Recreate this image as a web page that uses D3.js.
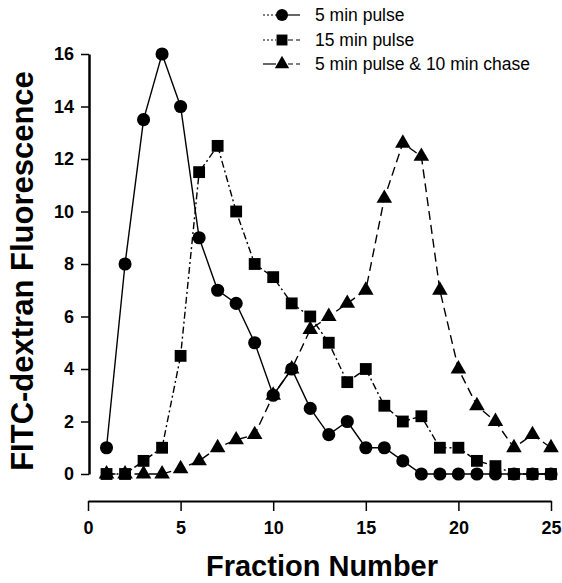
<!DOCTYPE html>
<html>
<head>
<meta charset="utf-8">
<script src="https://cdn.jsdelivr.net/npm/d3@7"></script>
<style>
  body { margin: 0; background: #fff; }
  text { font-family: "Liberation Sans", Arial, sans-serif; }
</style>
</head>
<body>
<script>
// Data
var fractions = [1, 2, 3, 4, 5, 6, 7, 8, 9, 10, 11, 12, 13, 14, 15, 16, 17, 18, 19, 20, 21, 22, 23, 24, 25];
var pulse5 = [1, 8, 13.5, 16, 14, 9, 7, 6.5, 5, 3, 4, 2.5, 1.5, 2, 1, 1, 0.5, 0, 0, 0, 0, 0, 0, 0, 0];
var pulse15 = [0, 0, 0.5, 1, 4.5, 11.5, 12.5, 10, 8, 7.5, 6.5, 6, 5, 3.5, 4, 2.6, 2, 2.2, 1, 1, 0.5, 0.3, 0, 0, 0];
var chase = [0, 0, 0, 0, 0.2, 0.5, 1, 1.3, 1.5, 3, 4, 5.5, 6, 6.5, 7, 10.5, 12.6, 12.1, 7, 4, 2.6, 2, 1, 1.5, 1];
var xTicks = [0, 5, 10, 15, 20, 25];
var yTicks = [0, 2, 4, 6, 8, 10, 12, 14, 16];
var legendLabels = ["5 min pulse", "15 min pulse", "5 min pulse & 10 min chase"];

var width = 562;
var height = 583;

var svg = d3.select("body").append("svg")
    .attr("width", width)
    .attr("height", height);

// scales
var x = d3.scaleLinear().domain([0, 25]).range([88, 551]);
var y = d3.scaleLinear().domain([0, 16]).range([474, 54]);

// y axis
var yAxis = svg.append("g")
    .attr("transform", "translate(89,0)")
    .call(d3.axisLeft(y).tickValues(yTicks).tickSize(8).tickPadding(7).tickSizeOuter(0));
yAxis.select(".domain").attr("stroke-width", 2.5);
yAxis.selectAll(".tick line").attr("stroke-width", 1.5);
yAxis.selectAll("text")
    .attr("font-size", 18)
    .attr("font-weight", "bold")
    .attr("font-family", "Liberation Sans, Arial, sans-serif");

// x axis
var xAxis = svg.append("g")
    .attr("transform", "translate(0,501)")
    .call(d3.axisBottom(x).tickValues(xTicks).tickSize(10).tickPadding(10).tickSizeOuter(0));
xAxis.select(".domain").attr("stroke-width", 2.2);
xAxis.selectAll(".tick line").attr("stroke-width", 1.5);
xAxis.selectAll("text")
    .attr("font-size", 18)
    .attr("font-weight", "bold")
    .attr("font-family", "Liberation Sans, Arial, sans-serif");

// axis titles
svg.append("text")
    .attr("transform", "translate(33,271) rotate(-90)")
    .attr("text-anchor", "middle")
    .attr("font-size", 31)
    .attr("font-weight", "bold")
    .text("FITC-dextran Fluorescence");

svg.append("text")
    .attr("x", 322)
    .attr("y", 576)
    .attr("text-anchor", "middle")
    .attr("font-size", 29)
    .attr("font-weight", "bold")
    .text("Fraction Number");

// series
var series = [
    { name: legendLabels[0], values: pulse5, symbol: d3.symbolCircle, size: 135, dash: null },
    { name: legendLabels[1], values: pulse15, symbol: d3.symbolSquare, size: 140, dash: "7,3,2,3" },
    { name: legendLabels[2], values: chase, symbol: d3.symbolTriangle, size: 105, dash: "9,5" }
];

var line = d3.line()
    .x(function(d) { return x(d[0]); })
    .y(function(d) { return y(d[1]); });

// draw order: triangles, circles, squares
[2, 0, 1].forEach(function(i) {
    var s = series[i];
    var pts = fractions.map(function(f, j) { return [f, s.values[j]]; });
    svg.append("path")
        .datum(pts)
        .attr("d", line)
        .attr("fill", "none")
        .attr("stroke", "#000")
        .attr("stroke-width", 1.4)
        .attr("stroke-dasharray", s.dash);
    svg.append("g").selectAll("path")
        .data(pts)
        .enter()
        .append("path")
        .attr("transform", function(d) { return "translate(" + x(d[0]) + "," + y(d[1]) + ")"; })
        .attr("d", d3.symbol().type(s.symbol).size(s.size))
        .attr("fill", "#000");
});

// legend
var legendY = [15, 40, 64];
var legendDash = ["2,2", "2,2", null];
var legendDash2 = [null, "5,3", "5,3"];
series.forEach(function(s, i) {
    var g = svg.append("g").attr("transform", "translate(0," + legendY[i] + ")");
    g.append("line")
        .attr("x1", 263).attr("x2", 276)
        .attr("stroke", "#000").attr("stroke-width", 1.2)
        .attr("stroke-dasharray", legendDash[i]);
    g.append("line")
        .attr("x1", 288).attr("x2", 300)
        .attr("stroke", "#000").attr("stroke-width", 1.2)
        .attr("stroke-dasharray", legendDash2[i]);
    g.append("path")
        .attr("transform", "translate(282,0)")
        .attr("d", d3.symbol().type(s.symbol).size(s.size * 0.85))
        .attr("fill", "#000");
    g.append("text")
        .attr("x", 315)
        .attr("y", 6)
        .attr("font-size", 17.5)
        .text(s.name);
});
</script>
</body>
</html>
